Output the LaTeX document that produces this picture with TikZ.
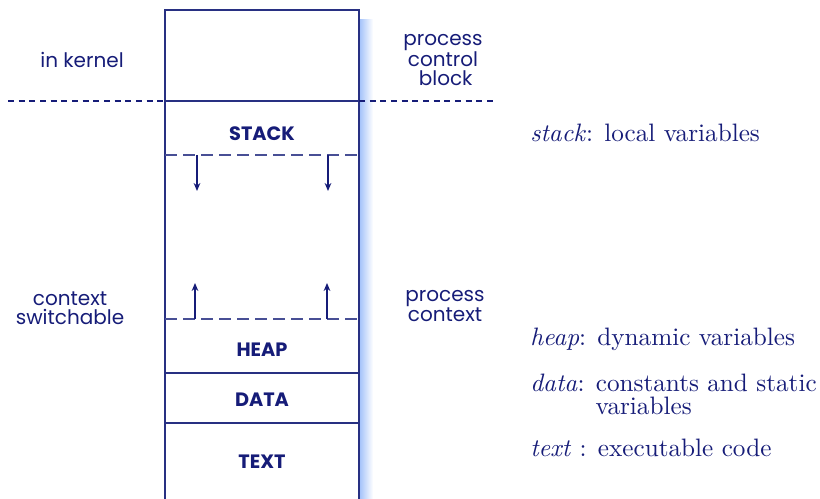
\documentclass[tikz,border=0pt]{standalone}
\usepackage{fontspec}
\newfontfamily\geo{Poppins}
\newfontfamily\cmten[ItalicFont=lmroman10-italic.otf]{lmroman10-regular.otf}
\usetikzlibrary{arrows.meta}
\definecolor{navy}{RGB}{22,28,120}
\definecolor{boxline}{RGB}{40,48,130}
\definecolor{shadeblue}{RGB}{160,192,250}
\tikzset{
  segline/.style={draw=boxline, line width=1pt},
  outdash/.style={draw=navy, line width=0.9pt, dash pattern=on 4.5pt off 3.5pt},
  indash/.style={draw=boxline!85, line width=1pt, dash pattern=on 9pt off 4.5pt},
  growarrow/.style={draw=navy, line width=0.9pt, -{Stealth[length=6pt,width=5pt]}},
  seglabel/.style={text=navy, font=\geo\bfseries\fontsize{14.5}{16}\selectfont, inner sep=0pt},
  sidelabel/.style={text=navy, font=\geo\fontsize{15}{14.5}\selectfont, align=center, inner sep=0pt},
  note/.style={text=navy, font=\cmten\fontsize{18.9}{16.8}\selectfont, anchor=base west, inner sep=0pt, align=left},
}
\begin{document}
\begin{tikzpicture}[x=0.75pt,y=-0.75pt]
\useasboundingbox (0,0) rectangle (820,499);
% shadow
\shade[left color=shadeblue, right color=white] (359,20) rectangle (373,499);
% box
\draw[segline] (165,499) -- (165,10) -- (359,10) -- (359,499);
\draw[segline] (165,101) -- (359,101);
\draw[segline] (165,373) -- (359,373);
\draw[segline] (165,423) -- (359,423);
% dashed lines
\draw[outdash] (8,101) -- (165,101);
\draw[outdash] (359,101) -- (497,101);
\draw[indash] (165,155) -- (359,155);
\draw[indash] (165,319) -- (359,319);
% arrows
\coordinate (s1a) at (197,155); \coordinate (s1b) at (197,191);
\coordinate (s2a) at (328,155); \coordinate (s2b) at (328,191);
\coordinate (h1a) at (195,319); \coordinate (h1b) at (195,283);
\coordinate (h2a) at (327,319); \coordinate (h2b) at (327,283);
\draw[growarrow] (s1a) -- (s1b);
\draw[growarrow] (s2a) -- (s2b);
\draw[growarrow] (h1a) -- (h1b);
\draw[growarrow] (h2a) -- (h2b);
% segment labels
\node[seglabel] (stack) at (262,134) {STACK};
\node[seglabel] (heap) at (262,350) {HEAP};
\node[seglabel] (data) at (262,400) {DATA};
\node[seglabel] (text) at (262,462) {TEXT};
% side labels
\node[sidelabel] (kern) at (82,60) {in kernel};
\node[sidelabel] (pcb) at (443,60) {process\\control\\\hspace*{4pt}block};
\node[sidelabel] (cs) at (70,308) {context\\switchable};
\node[sidelabel] (pc) at (445,306) {process\\context};
% notes
\node[note] (n1) at (530,141.5) {\textit{stack}: local variables};
\node[note] (n2) at (530,345) {\textit{heap}: dynamic variables};
\node[note] (n3) at (530,414) {\textit{data}: constants and static\\\hspace*{49pt}variables};
\node[note] (n4) at (530,456.5) {\textit{text} : executable code};
\end{tikzpicture}
\end{document}
